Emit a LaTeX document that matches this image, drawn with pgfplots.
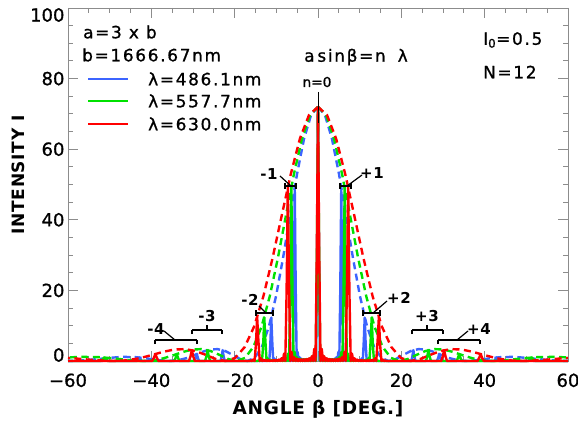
\documentclass[border=0pt]{standalone}
\usepackage{pgfplots}
\pgfplotsset{compat=1.18}
\usepackage{pgfplotstable}
\usepackage{fontspec}
\setmainfont{DejaVu Sans}
\newfontfamily\tk{DejaVu Sans}[FakeBold=1]
\newfontfamily\ann{DejaVu Sans}[LetterSpace=10, FakeBold=1]
\newfontfamily\lab{DejaVu Sans Bold}[LetterSpace=4]
\definecolor{cB}{RGB}{60,100,255}
\definecolor{cG}{RGB}{0,225,0}
\definecolor{cR}{RGB}{255,0,0}

% grating pattern, positive side (beta in deg, intensity)
\pgfplotstableread{
b I
0 72
0.23 29.33
0.46 0
0.70 3.41
0.93 0
1.16 1.33
1.39 0
1.62 0.77
1.86 0
2.09 0.56
2.32 0
2.55 0.47
2.79 0
3.02 0.46
3.25 0
3.48 0.51
3.72 0
3.95 0.66
4.18 0
4.41 1.07
4.65 0
4.88 2.56
5.11 0
5.35 20.73
5.58 49.25
5.81 19.41
6.05 0
6.28 2.10
6.51 0
6.75 0.77
6.98 0
7.21 0.41
7.45 0
7.68 0.28
7.92 0
8.15 0.22
8.39 0
8.62 0.19
8.85 0
9.09 0.20
9.32 0
9.56 0.24
9.80 0
10.03 0.35
10.27 0
10.50 0.76
10.74 0
10.98 5.49
11.21 12.32
11.45 4.57
11.69 0
11.92 0.43
12.16 0
12.40 0.14
12.64 0
22.38 0
22.63 1.22
22.88 3.08
23.14 1.29
23.39 0
28.55 0
28.82 0.86
29.08 1.97
29.35 0.75
29.62 0
42.25 0
42.57 0.42
42.89 1.01
43.20 0.40
43.52 0
50.32 0
50.69 0.32
51.06 0.77
51.43 0.30
51.80 0
60 0
}\gB
\pgfplotstableread{
b I
0 72
0.27 29.33
0.53 0
0.80 3.41
1.07 0
1.33 1.33
1.60 0
1.86 0.77
2.13 0
2.40 0.56
2.66 0
2.93 0.47
3.20 0
3.46 0.46
3.73 0
4.00 0.51
4.26 0
4.53 0.66
4.80 0
5.07 1.07
5.33 0
5.60 2.56
5.87 0
6.14 20.73
6.40 49.25
6.67 19.41
6.94 0
7.21 2.10
7.48 0
7.75 0.77
8.01 0
8.28 0.41
8.55 0
8.82 0.28
9.09 0
9.36 0.22
9.63 0
9.90 0.19
10.17 0
10.44 0.20
10.71 0
10.98 0.24
11.26 0
11.53 0.35
11.80 0
12.07 0.76
12.34 0
12.62 5.49
12.89 12.32
13.16 4.57
13.44 0
13.71 0.43
13.99 0
14.26 0.14
14.53 0
25.90 0
26.20 1.22
26.50 3.08
26.80 1.29
27.09 0
33.26 0
33.58 0.86
33.90 1.97
34.22 0.75
34.54 0
50.47 0
50.89 0.42
51.32 1.01
51.75 0.40
52.17 0
60 0
}\gG
\pgfplotstableread{
b I
0 72
0.30 29.33
0.60 0
0.90 3.41
1.20 0
1.50 1.33
1.81 0
2.11 0.77
2.41 0
2.71 0.56
3.01 0
3.31 0.47
3.61 0
3.91 0.46
4.22 0
4.52 0.51
4.82 0
5.12 0.66
5.42 0
5.72 1.07
6.03 0
6.33 2.56
6.63 0
6.94 20.73
7.24 49.25
7.54 19.41
7.85 0
8.15 2.10
8.45 0
8.76 0.77
9.06 0
9.37 0.41
9.67 0
9.98 0.28
10.28 0
10.59 0.22
10.89 0
11.20 0.19
11.51 0
11.81 0.20
12.12 0
12.43 0.24
12.74 0
13.05 0.35
13.36 0
13.67 0.76
13.98 0
14.29 5.49
14.60 12.32
14.91 4.57
15.22 0
15.53 0.43
15.84 0
16.16 0.14
16.47 0
29.57 0
29.92 1.22
30.27 3.08
30.61 1.29
30.96 0
38.28 0
38.66 0.86
39.05 1.97
39.44 0.75
39.83 0
60 0
}\gR

% single-slit envelopes, positive side
\pgfplotstableread{
b I
0 72
1.67 69.66
3.34 63.01
5.02 53.05
6.70 41.24
8.39 29.18
10.08 18.33
11.78 9.74
13.49 3.94
15.22 0.86
16.96 0
18.71 0.58
20.49 1.75
22.28 2.83
24.10 3.37
25.94 3.24
27.82 2.58
29.72 1.65
31.67 0.78
33.65 0.19
35.69 0
38.30 0.24
41.01 0.72
43.85 1.10
46.82 1.17
49.97 0.90
53.33 0.48
56.99 0.13
60 0.01
}\eB
\pgfplotstableread{
b I
0 72
1.92 69.66
3.84 63.01
5.76 53.05
7.69 41.24
9.63 29.18
11.58 18.33
13.55 9.74
15.53 3.94
17.53 0.86
19.55 0
21.60 0.58
23.67 1.75
25.79 2.83
27.94 3.37
30.13 3.24
32.37 2.58
34.67 1.65
37.03 0.78
39.47 0.19
42.01 0
45.34 0.24
48.84 0.72
52.64 1.10
56.79 1.17
60 1.01
}\eG
\pgfplotstableread{
b I
0 72
2.17 69.66
4.34 63.01
6.51 53.05
8.70 41.24
10.90 29.18
13.11 18.33
15.34 9.74
17.60 3.94
19.89 0.86
22.21 0
24.57 0.58
26.97 1.75
29.43 2.83
31.95 3.37
34.54 3.24
37.22 2.58
39.99 1.65
42.87 0.78
45.91 0.19
49.11 0
53.46 0.24
58.28 0.72
60 0.87
}\eR

\begin{document}
\begin{tikzpicture}
\path[use as bounding box] (-68pt,-65pt) rectangle (510pt,361pt);
\begin{axis}[
  at={(0pt,0pt)}, anchor=south west,
  scale only axis, width=500pt, height=353pt,
  xmin=-60, xmax=60, ymin=0, ymax=100,
  xtick={-60,-40,...,60},
  xticklabels={−60,−40,−20,0,20,40,60},
  ytick={0,20,...,100},
  yticklabels={,20,40,60,80,},
  minor x tick num=3, minor y tick num=3,
  tick align=inside,
  major tick length=10pt, minor tick length=5pt,
  axis line style={black!45, line width=0.9pt},
  every tick/.style={black!45, line width=0.9pt},
  tick label style={font=\tk\fontsize{18}{20}\selectfont},
  xticklabel style={yshift=-9pt},
  /pgf/number format/assume math mode=true,
  clip=false,
  solid/.style={line width=2.4pt, line join=round},
  dsh/.style={line width=2.4pt, dash pattern=on 7pt off 4.5pt},
]
% blue
\addplot[cB, dsh] table[x=b, y=I] {\eB};
\addplot[cB, dsh] table[x expr=-\thisrow{b}, y=I] {\eB};
\addplot[cB, solid] table[x=b, y=I] {\gB};
\addplot[cB, solid] table[x expr=-\thisrow{b}, y=I] {\gB};
% green
\addplot[cG, dsh] table[x=b, y=I] {\eG};
\addplot[cG, dsh] table[x expr=-\thisrow{b}, y=I] {\eG};
\addplot[cG, solid] table[x=b, y=I] {\gG};
\addplot[cG, solid] table[x expr=-\thisrow{b}, y=I] {\gG};
% red
\addplot[cR, dsh] table[x=b, y=I] {\eR};
\addplot[cR, dsh] table[x expr=-\thisrow{b}, y=I] {\eR};
\addplot[cR, solid] table[x=b, y=I] {\gR};
\addplot[cR, solid] table[x expr=-\thisrow{b}, y=I] {\gR};
\end{axis}

% end tick labels of the y axis (set inward as in the reference)
\node[anchor=east, font=\tk\fontsize{18}{20}\selectfont] at (0pt,6pt) {0};
\node[anchor=east, font=\tk\fontsize{18}{20}\selectfont] at (0pt,346pt) {100};

% axis labels
\node[rotate=90, font=\lab\fontsize{17}{19}\selectfont] at (-50pt,186pt) {INTENSITY I};
\node[font=\lab\fontsize{18.5}{20}\selectfont] at (250pt,-48pt) {ANGLE β [DEG.]};

% legend block
\begin{scope}[font=\ann\fontsize{16.9}{19}\selectfont]
\node[anchor=west, inner sep=0pt] at (15pt,329pt) {a=3 x b};
\node[anchor=west, inner sep=0pt] at (14pt,306pt) {b=1666.67nm};
\draw[cB, line width=2.2pt] (20pt,282pt) -- (60pt,282pt);
\draw[cG, line width=2.2pt] (20pt,260pt) -- (60pt,260pt);
\draw[cR, line width=2.2pt] (20pt,237pt) -- (60pt,237pt);
\node[anchor=west, inner sep=0pt] at (80pt,282pt) {λ=486.1nm};
\node[anchor=west, inner sep=0pt] at (80pt,260pt) {λ=557.7nm};
\node[anchor=west, inner sep=0pt] at (80pt,237pt) {λ=630.0nm};
\node at (288pt,304pt) {a\,sinβ=n\hspace{12pt}λ};
\node[anchor=west, inner sep=0pt] at (415pt,321pt) {I\textsubscript{0}=0.5};
\node[anchor=west, inner sep=0pt] at (415pt,289pt) {N=12};
\end{scope}
\node[font=\tk\fontsize{13.7}{15}\selectfont] at (249pt,279pt) {n=0};
\draw[black, line width=1pt] (250pt,269pt) -- (250pt,238pt);

% order markers
\begin{scope}[black, line width=1.2pt, font=\lab\fontsize{15}{17}\selectfont]
% -1 / +1
\draw (217pt,175pt) -- (228pt,175pt);
\draw (217pt,172pt) -- (217pt,178pt); \draw (228pt,172pt) -- (228pt,178pt);
\draw (212pt,185pt) -- (223pt,175pt);
\node at (201pt,187pt) {-1};
\draw (272pt,175pt) -- (283pt,175pt);
\draw (272pt,172pt) -- (272pt,178pt); \draw (283pt,172pt) -- (283pt,178pt);
\draw (279pt,175pt) -- (294pt,186pt);
\node at (304pt,188pt) {+1};
% -2 / +2
\draw (188pt,48pt) -- (205pt,48pt);
\draw (188pt,45pt) -- (188pt,51pt); \draw (205pt,45pt) -- (205pt,51pt);
\draw (191pt,55pt) -- (198pt,48pt);
\node at (182pt,61pt) {-2};
\draw (295pt,48pt) -- (312pt,48pt);
\draw (295pt,45pt) -- (295pt,51pt); \draw (312pt,45pt) -- (312pt,51pt);
\draw (305pt,48pt) -- (319pt,60pt);
\node at (331pt,63pt) {+2};
% -3 / +3
\draw (124pt,31pt) -- (154pt,31pt);
\draw (124pt,27pt) -- (124pt,31pt); \draw (154pt,27pt) -- (154pt,31pt);
\draw (139pt,31pt) -- (139pt,36pt);
\node at (139pt,45pt) {-3};
\draw (344pt,31pt) -- (375pt,31pt);
\draw (344pt,27pt) -- (344pt,31pt); \draw (375pt,27pt) -- (375pt,31pt);
\draw (359pt,31pt) -- (359pt,36pt);
\node at (359pt,45pt) {+3};
% -4 / +4
\draw (87pt,21pt) -- (129pt,21pt);
\draw (87pt,17pt) -- (87pt,21pt); \draw (129pt,17pt) -- (129pt,21pt);
\draw (96pt,30pt) -- (107pt,21pt);
\node at (88pt,32pt) {-4};
\draw (370pt,21pt) -- (412pt,21pt);
\draw (370pt,17pt) -- (370pt,21pt); \draw (412pt,17pt) -- (412pt,21pt);
\draw (389pt,21pt) -- (400pt,30pt);
\node at (411pt,32pt) {+4};
\end{scope}
\end{tikzpicture}
\end{document}
